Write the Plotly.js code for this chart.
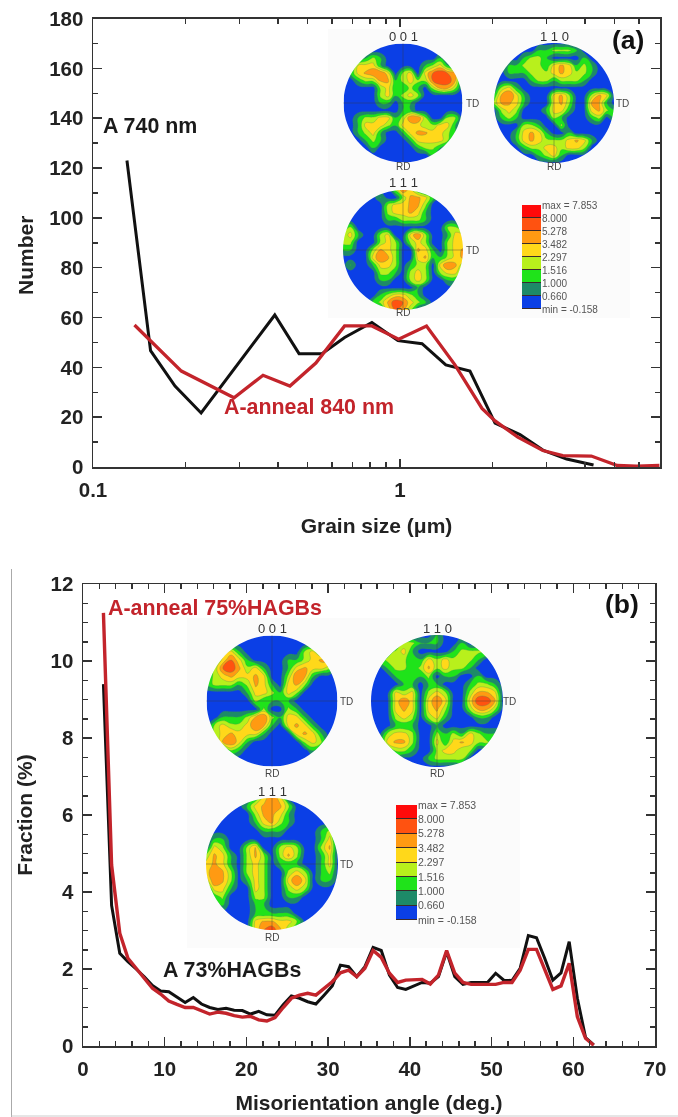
<!DOCTYPE html>
<html><head><meta charset="utf-8">
<script src="https://cdn.plot.ly/plotly-3.0.1.min.js"></script>
<style>html,body{margin:0;padding:0;background:#fff}#c{width:678px;height:1117px;filter:blur(0.4px)}</style>
</head><body><div id="c"></div>
<script>
// Panel (a): grain size distribution
const grainBlackX=[0.129,0.154,0.185,0.225,0.391,0.469,0.557,0.66,0.81,0.985,1.18,1.41,1.69,2.04,2.46,2.92,3.49,4.27];
const grainBlackY=[123,46.7,32.5,21.7,61,45.5,45.5,52,58,50.7,49.5,41,38.5,17.6,13,6.8,3.2,0.8];
const grainRedX=[0.1365,0.194,0.288,0.358,0.438,0.532,0.66,0.81,0.99,1.22,1.51,1.85,2.04,2.42,2.92,3.39,4.2,5.1,5.9,7];
const grainRedY=[57,38.5,27.8,36.8,32.5,41.7,56.6,56.6,51.3,56.6,41,23.5,18.5,12,6.6,4.6,4.4,0.6,0.3,0.6];
// Panel (b): misorientation angle distribution
const angleX=[2.5,3.5,4.5,5.5,6.5,7.5,8.5,9.5,10.5,11.5,12.5,13.5,14.5,15.5,16.5,17.5,18.5,19.5,20.5,21.5,22.5,23.5,24.5,25.5,26.5,27.5,28.5,29.5,30.5,31.5,32.5,33.5,34.5,35.5,36.5,37.5,38.5,39.5,40.5,41.5,42.5,43.5,44.5,45.5,46.5,47.5,48.5,49.5,50.5,51.5,52.5,53.5,54.5,55.5,56.5,57.5,58.5,59.5,60.5,61.5,62.5];
const angleBlack=[9.4,3.65,2.41,2.19,2.0,1.8,1.57,1.43,1.41,1.26,1.13,1.26,1.09,1.0,0.95,0.98,0.93,0.92,0.83,0.90,0.81,0.80,1.07,1.3,1.24,1.15,1.09,1.32,1.56,2.1,2.06,1.8,2.06,2.56,2.48,1.84,1.52,1.47,1.56,1.65,1.63,1.8,2.45,1.8,1.6,1.65,1.65,1.65,1.89,1.71,1.7,2.02,2.87,2.81,2.28,1.71,1.9,2.71,1.24,0.22,0.03];
const angleRed=[11.25,4.7,2.93,2.28,2.02,1.76,1.5,1.35,1.17,1.08,1.0,1.0,0.92,0.83,0.88,0.85,0.79,0.75,0.77,0.68,0.65,0.74,1.0,1.24,1.32,1.37,1.32,1.5,1.67,1.9,1.97,1.8,2.02,2.48,2.3,1.89,1.65,1.71,1.71,1.73,1.61,1.84,2.48,1.89,1.65,1.6,1.6,1.6,1.6,1.65,1.65,1.97,2.51,2.51,1.97,1.47,1.56,2.15,0.76,0.2,0.02];
// Pole figure density classes (top row first; 0 blue ... 6 dark orange)
const pfA001=["00000000000000000","00000000000000000","00012100000001000","00333100000123100","01345530230356540","00122441232256640","00000231121024420","00000231232000000","00000110110000000","00000000110000000","00122331255200220","00133321333223310","00123100134433210","00012100013333200","00001000001221000","00000000000010000","00000000000000000"];
const pfA110=["00000000000000000","00000011222100000","00001221000010000","00112221343121000","00111222343221000","00000122122210000","02310000000000000","14531000342002430","24431000342004410","02320001331003421","01210000210001201","00002210020000000","00013431001000000","00013432223431000","00001223323320000","00000012310000000","00000000000000000"];
const pfA111=["00000002531000000","00000100244310000","00000023344200000","00000023343100000","00000011222100000","12000000000000220","23100230035200133","22000232023200233","11002432004310234","00003542003411234","01001332012203542","00000221023202331","00000110023200110","00000000001000000","00000123321000000","00001246532100000","00000035420000000"];
const pfB001=["00000000000000000","00000000000000000","00231000000023100","01353100001123442","02564231001343320","12343343002541000","12221243103420000","00000133213200000","00000021111000000","00000002002100000","00111245213310000","02322354103431000","02343331000343100","01453100000023200","00021000000001000","00000000000000000","00000000000000000"];
const pfB110=["00000000100000000","00002211100100000","00123100001222200","01222113232221000","00122124232210000","00011112011001000","00001101100012210","00032302320024430","00035303530036640","00034303420024420","00023202310001100","00011100100000000","00233200212132111","00344200313432210","00022100233220000","00000001222200000","00000000000000000"];
const pfB111=["00000013530000000","00000134542000000","00000024431000000","00000013421000001","00000001110000120","01100000000000130","03200240023200240","24310242024200130","34310232011100130","35420232002320120","25420132003530110","03310032002320000","01200022001100000","00100011000000000","00000011111000000","00000034433200000","00000035642000000"];
const classLevel=[0,1.6,2.8,3.9,4.7,5.5,6.3];
const levelLabels=["min = -0.158","0.660","1.000","1.516","2.297","3.482","5.278","8.000","max = 7.853"];
const levelColors=["#0b3fe6","#1d8a68","#1fe31a","#b8f01c","#ffd81a","#ff9a12","#ff5210","#ff0a0a"];

const W=678,H=1117,FF='"Liberation Sans",Arial,sans-serif',INK='#222222',RED='#c3242b',BG='#fbfbfb';
const dx=(a,b)=>[a/W,b/W], dy=(t,b)=>[1-b/H,1-t/H];
const bold=(s,c)=>({family:FF,size:s,color:c||INK,weight:700});
const data=[],shapes=[],ann=[];
const layout={width:W,height:H,margin:{l:0,r:0,t:0,b:0},paper_bgcolor:'#fff',plot_bgcolor:'rgba(0,0,0,0)',showlegend:false,
 autosize:false,shapes,annotations:ann};

function label(x,y,text,font,xa,ya,angle){ann.push({xref:'paper',yref:'paper',x:x/W,y:1-y/H,text,font,showarrow:false,xanchor:xa||'center',yanchor:ya||'middle',borderpad:0,borderwidth:0,textangle:angle||0});}
const mainAxis=o=>Object.assign({showgrid:false,zeroline:false,showline:true,linecolor:'#333',linewidth:1.5,mirror:'ticks',ticks:'inside',tickcolor:'#333',tickwidth:1.5,ticklen:9,tickfont:bold(20.5),ticklabelstandoff:4},o);

shapes.push({type:'rect',xref:'paper',yref:'paper',x0:328/W,x1:630/W,y0:1-318/H,y1:1-29/H,fillcolor:BG,line:{width:0},layer:'below'});
shapes.push({type:'rect',xref:'paper',yref:'paper',x0:187/W,x1:520/W,y0:1-948/H,y1:1-618/H,fillcolor:BG,line:{width:0},layer:'below'});
shapes.push({type:'line',xref:'paper',yref:'paper',x0:11.5/W,x1:11.5/W,y0:0,y1:1-569/H,line:{color:'#aaaaaa',width:1},layer:'below'});
shapes.push({type:'line',xref:'paper',yref:'paper',x0:11.5/W,x1:1,y0:1/H,y1:1/H,line:{color:'#cccccc',width:1},layer:'below'});

const minorBase={ticks:'inside',ticklen:5,tickwidth:1.5,tickcolor:'#333'};
layout.xaxis=mainAxis({type:'log',domain:dx(93,660),range:[-1,Math.log10(7.03)],anchor:'y',tickvals:[0.1,1],ticktext:['0.1','1'],ticklen:8,
 minor:Object.assign({tickvals:[0.2,0.3,0.4,0.5,0.6,0.7,0.8,0.9,2,3,4,5,6,7]},minorBase),
 title:{text:'Grain size (\u03bcm)',font:bold(21),standoff:18}});
layout.yaxis=mainAxis({domain:dy(18.5,467),range:[0,180],anchor:'x',tick0:0,dtick:20,minor:Object.assign({dtick:10},minorBase)});
layout.xaxis2=mainAxis({domain:dx(83,655),range:[0,70],anchor:'y2',tick0:0,dtick:10,ticklen:9,minor:Object.assign({dtick:2},minorBase),
 title:{text:'Misorientation angle (deg.)',font:bold(21),standoff:16}});
layout.yaxis2=mainAxis({domain:dy(584,1046),range:[0,12],anchor:'x2',tick0:0,dtick:2,minor:Object.assign({dtick:0.5},minorBase),
 title:{text:'Fraction (%)',font:bold(21),standoff:12}});
label(26,256,'Number',bold(21),'center','middle',-90);

const line=(x,y,c,w,xa,ya)=>({type:'scatter',mode:'lines',x,y,xaxis:xa,yaxis:ya,line:{color:c,width:w},hoverinfo:'skip'});
data.push(line(grainBlackX,grainBlackY,'#111',3,'x','y'));
data.push(line(grainRedX,grainRedY,RED,3.3,'x','y'));
data.push(line(angleX,angleBlack,'#111',3,'x2','y2'));
data.push(line(angleX,angleRed,RED,3.4,'x2','y2'));

let axisNo=3;
const cs=levelColors.map((c,i)=>[i/(levelColors.length-1),c]);
const gridAxis=Array.from({length:17},(_,i)=>-1+i/8);
function poleFigure(rows,cx,cy,r,title,titleY,rdY,tdX){
 const n=axisNo++, R=1.08;
 layout['xaxis'+n]={visible:false,domain:dx(cx-r*R,cx+r*R),range:[-R,R],anchor:'y'+n,fixedrange:true};
 layout['yaxis'+n]={visible:false,domain:dy(cy-r*R,cy+r*R),range:[-R,R],anchor:'x'+n,fixedrange:true};
 data.push({type:'contour',x:gridAxis,y:gridAxis,z:rows.map(s=>s.split('').map(d=>classLevel[+d])).reverse(),xaxis:'x'+n,yaxis:'y'+n,
  autocontour:false,contours:{start:0.5,end:6.5,size:1,coloring:'fill'},colorscale:cs,showscale:false,hoverinfo:'skip',
  line:{color:'#3f8a5c',width:0.3,smoothing:1.3}});
 let p=`M${-R},${-R}L${R},${-R}L${R},${R}L${-R},${R}Z`;
 for(let i=0;i<=90;i++){const a=i/90*2*Math.PI;p+=(i?'L':'M')+Math.cos(a)+','+Math.sin(a);}
 p+='Z';
 shapes.push({type:'path',xref:'x'+n,yref:'y'+n,path:p,fillcolor:BG,line:{width:0},layer:'above'});
 const cross={color:'#3a3a3a',width:0.7};
 shapes.push({type:'line',xref:'x'+n,yref:'y'+n,x0:-1,x1:1,y0:0,y1:0,line:cross,layer:'above',opacity:0.55});
 shapes.push({type:'line',xref:'x'+n,yref:'y'+n,x0:0,x1:0,y0:-1,y1:1,line:cross,layer:'above',opacity:0.55});
 label(cx,titleY,title,{family:FF,size:13,color:'#333'});
 label(cx,rdY,'RD',{family:FF,size:10,color:'#444'});
 label(tdX,cy,'TD',{family:FF,size:10,color:'#444'});
}
function levelKey(x0,x1,y0,y1,fs){
 const n=axisNo++;
 layout['xaxis'+n]={visible:false,domain:dx(x0,x1),range:[0,1],anchor:'y'+n,fixedrange:true};
 layout['yaxis'+n]={domain:dy(y0,y1),range:[-0.5,7.5],anchor:'x'+n,side:'right',showgrid:false,zeroline:false,showline:false,ticks:'',
  tickvals:levelLabels.map((_,i)=>i-0.5),ticktext:levelLabels,tickfont:{family:FF,size:fs,color:'#555'},ticklabelstandoff:0,fixedrange:true};
 shapes.push({type:'rect',xref:'paper',yref:'paper',x0:x0/W,x1:x1/W,y0:1-y1/H,y1:1-y0/H,fillcolor:'#3a2a2a',line:{width:0},layer:'below'});
 data.push({type:'heatmap',x:[0.5],y:levelColors.map((_,i)=>i),z:levelColors.map((_,i)=>[i]),xaxis:'x'+n,yaxis:'y'+n,zmin:0,zmax:7,
  colorscale:cs,showscale:false,ygap:1,hoverinfo:'skip'});
}
poleFigure(pfA001,403,103,59.5,'0 0 1',36,167,472);
poleFigure(pfA110,554,103,60,'1 1 0',36,167,622);
poleFigure(pfA111,403,250,60,'1 1 1',183,313,472);
levelKey(522,541,205,309,10);
poleFigure(pfB001,272,701,65.5,'0 0 1',628,773,346);
poleFigure(pfB110,437,701,66,'1 1 0',628,773,510);
poleFigure(pfB111,272,864,66,'1 1 1',791,937,346);
levelKey(396,417,805,920,10.5);

label(103,126,'A 740 nm',bold(21.4,'#1a1a1a'),'left');
label(224,407,'A-anneal 840 nm',bold(21.4,RED),'left');
label(628,40,'(a)',bold(26.5,'#111'));
label(108,608,'A-anneal 75%HAGBs',bold(21.4,RED),'left');
label(163,970,'A 73%HAGBs',bold(21.4,'#1a1a1a'),'left');
label(622,604,'(b)',bold(26.5,'#111'));

Plotly.newPlot('c',data,layout,{staticPlot:true,displayModeBar:false});
</script></body></html>
